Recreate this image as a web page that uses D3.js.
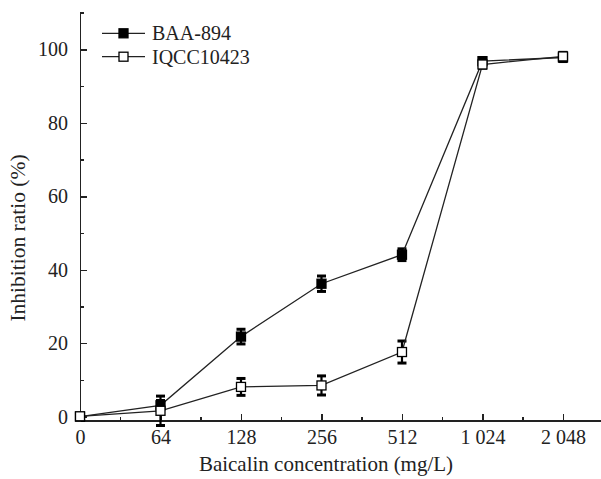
<!DOCTYPE html>
<meta charset="utf-8">
<style>
body { margin: 0; background: #fff; }
svg text { font-family: "Liberation Serif", "Times New Roman", serif; fill: #222; }
.axis path, .axis line { stroke: #222; stroke-width: 1.5; shape-rendering: crispEdges; }
.axis text { font-size: 20px; }
.minor path { display: none; }
</style>
<body>
<script src="https://d3js.org/d3.v7.min.js"></script>
<script>
// Baicalin concentration categories (mg/L), evenly spaced on the x axis
var categories = ["0", "64", "128", "256", "512", "1 024", "2 048"];

// Inhibition ratio (%) and error bar half widths
var baa = [0, 3.1, 21.8, 36.2, 44.1, 96.8, 97.8];
var baaErr = [0.6, 1.3, 2.0, 2.1, 1.6, 1.0, 1.1];
var iqcc = [0.1, 1.6, 8.1, 8.5, 17.6, 95.9, 98.1];
var iqccErr = [0.5, 4.0, 2.3, 2.6, 3.0, 1.0, 1.1];

var yTicks = [0, 20, 40, 60, 80, 100];
var yMinor = [10, 30, 50, 70, 90, 110];

var series = [
  {name: "BAA-894", values: baa, err: baaErr, fill: "#000"},
  {name: "IQCC10423", values: iqcc, err: iqccErr, fill: "#fff"}
];

var width = 601, height = 479;
var font = "Liberation Serif, Times New Roman, serif";

var svg = d3.select("body").append("svg")
    .attr("width", width)
    .attr("height", height);

// x on category index so the axis can run past the last category
var x = d3.scaleLinear().domain([0, 6.46]).range([80, 600]);
var y = d3.scaleLinear().domain([-1.1, 110]).range([420.7, 12.7]);

var xAxis = d3.axisBottom(x)
    .tickValues(d3.range(categories.length))
    .tickFormat(function(i) { return categories[i]; })
    .tickSizeInner(-7).tickSizeOuter(0).tickPadding(9);

var xMinor = d3.axisBottom(x)
    .tickValues(d3.range(categories.length - 1).map(function(i) { return i + 0.5; }))
    .tickFormat("")
    .tickSizeInner(-4).tickSizeOuter(0);

var yAxis = d3.axisLeft(y)
    .tickValues(yTicks)
    .tickSizeInner(-7).tickSizeOuter(0).tickPadding(12);

var yMinorAxis = d3.axisLeft(y)
    .tickValues(yMinor)
    .tickFormat("")
    .tickSizeInner(-4).tickSizeOuter(0);

svg.append("g").attr("class", "axis minor")
    .attr("transform", "translate(0," + y.range()[0] + ")")
    .call(xMinor);
svg.append("g").attr("class", "axis")
    .attr("transform", "translate(0," + y.range()[0] + ")")
    .call(xAxis);

svg.append("g").attr("class", "axis minor")
    .attr("transform", "translate(" + x(0) + ",0)")
    .call(yMinorAxis);
svg.append("g").attr("class", "axis")
    .attr("transform", "translate(" + x(0) + ",0)")
    .call(yAxis);

svg.selectAll(".axis").attr("font-family", font).attr("font-size", 20);

// axis titles
svg.append("text")
    .attr("x", 326)
    .attr("y", 471)
    .style("font-size", "21px")
    .style("text-anchor", "middle")
    .text("Baicalin concentration (mg/L)");

svg.append("text")
    .attr("transform", "translate(24.5,238) rotate(-90)")
    .style("font-size", "21.5px")
    .style("text-anchor", "middle")
    .text("Inhibition ratio (%)");

var line = d3.line()
    .x(function(d, i) { return x(i); })
    .y(function(d) { return y(d); });

var sz = 9, cap = 9;

series.forEach(function(s) {
  var g = svg.append("g");

  // error bars
  s.values.forEach(function(v, i) {
    var cx = x(i), top = y(v + s.err[i]), bot = y(v - s.err[i]);
    g.append("line").attr("x1", cx).attr("x2", cx).attr("y1", top).attr("y2", bot)
      .attr("stroke", "#000").attr("stroke-width", 2.2);
    [top, bot].forEach(function(yy) {
      g.append("line").attr("x1", cx - cap / 2).attr("x2", cx + cap / 2)
        .attr("y1", yy).attr("y2", yy)
        .attr("stroke", "#000").attr("stroke-width", 3);
    });
  });

  g.append("path")
    .datum(s.values)
    .attr("fill", "none")
    .attr("stroke", "#222")
    .attr("stroke-width", 1.3)
    .attr("d", line);
});

series.forEach(function(s) {
  svg.append("g").selectAll("rect")
    .data(s.values)
    .enter().append("rect")
      .attr("x", function(d, i) { return x(i) - sz / 2; })
      .attr("y", function(d) { return y(d) - sz / 2; })
      .attr("width", sz)
      .attr("height", sz)
      .attr("fill", s.fill)
      .attr("stroke", "#000")
      .attr("stroke-width", 1.3);
});

// legend
var legend = svg.append("g");
series.forEach(function(s, i) {
  var ly = 33.3 + i * 23.4;
  legend.append("line").attr("x1", 102).attr("x2", 145).attr("y1", ly).attr("y2", ly)
    .attr("stroke", "#222").attr("stroke-width", 1.3);
  legend.append("rect").attr("x", 123.5 - sz / 2).attr("y", ly - sz / 2)
    .attr("width", sz).attr("height", sz)
    .attr("fill", s.fill).attr("stroke", "#000").attr("stroke-width", 1.3);
  legend.append("text").attr("x", 152).attr("y", ly).attr("dy", "0.35em")
    .style("font-size", "20px")
    .text(s.name);
});
</script>
